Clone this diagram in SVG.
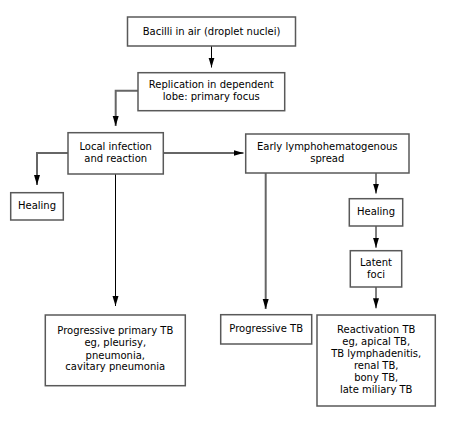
<svg xmlns="http://www.w3.org/2000/svg" width="454" height="432" viewBox="0 0 454 432">
<style>
.box{fill:#fff;stroke:#595959;stroke-width:1.5}
text{font-family:"DejaVu Sans",Verdana,sans-serif;font-size:10px;fill:#000;text-anchor:middle}
.g{fill:none;stroke:#666;stroke-width:2}
.k{fill:none;stroke:#000;stroke-width:1}
</style>
<defs>
<marker id="ah" markerWidth="10" markerHeight="8" refX="10" refY="4" orient="auto" markerUnits="userSpaceOnUse">
<path d="M0,1 L10,4 L0,7 Z" fill="#000"/>
</marker>
</defs>
<rect width="454" height="432" fill="#fff"/>
<g id="connectors">
<path class="k" d="M211.5,46 V67.5" marker-end="url(#ah)"/>
<path class="g" d="M138,90.7 H115.7 V126" marker-end="url(#ah)"/>
<path class="g" d="M68,153 H37 V185" marker-end="url(#ah)"/>
<path class="g" d="M163,153 H243.5" marker-end="url(#ah)"/>
<path class="k" d="M115.5,174 V306" marker-end="url(#ah)"/>
<path class="g" d="M265.7,173 V309" marker-end="url(#ah)"/>
<path class="k" d="M376,173 V193.5" marker-end="url(#ah)"/>
<path class="k" d="M376,226 V247.7" marker-end="url(#ah)"/>
<path class="k" d="M376,287 V308.3" marker-end="url(#ah)"/>
</g>
<g id="n1"><rect class="box" x="127.5" y="17" width="168" height="29"/><text x="211.5" y="35">Bacilli in air (droplet nuclei)</text></g>
<g id="n2"><rect class="box" x="138" y="72.7" width="146.7" height="38"/><text x="211.3" y="87.5">Replication in dependent</text><text x="211.3" y="100">lobe: primary focus</text></g>
<g id="n3"><rect class="box" x="68" y="132.7" width="95.3" height="41.3"/><text x="115.7" y="149.5">Local infection</text><text x="115.7" y="161.5">and reaction</text></g>
<g id="n4"><rect class="box" x="245.7" y="134" width="163.3" height="39"/><text x="327.3" y="150">Early lymphohematogenous</text><text x="327.3" y="162">spread</text></g>
<g id="n5"><rect class="box" x="10.7" y="192.7" width="52.6" height="27.3"/><text x="37" y="209">Healing</text></g>
<g id="n6"><rect class="box" x="349.3" y="198.7" width="53.4" height="27.3"/><text x="376" y="215">Healing</text></g>
<g id="n7"><rect class="box" x="350.3" y="250.7" width="51.4" height="36.3"/><text x="376" y="266">Latent</text><text x="376" y="278">foci</text></g>
<g id="n8"><rect class="box" x="45.3" y="315" width="140" height="70.7"/><text x="115.3" y="334">Progressive primary TB</text><text x="115.3" y="346.3">eg, pleurisy,</text><text x="115.3" y="358.6">pneumonia,</text><text x="115.3" y="370">cavitary pneumonia</text></g>
<g id="n9"><rect class="box" x="220.7" y="314.7" width="91" height="29.3"/><text x="266.2" y="332">Progressive TB</text></g>
<g id="n10"><rect class="box" x="317" y="315" width="118.3" height="91"/><text x="376.2" y="332.7">Reactivation TB</text><text x="376.2" y="345">eg, apical TB,</text><text x="376.2" y="357">TB lymphadenitis,</text><text x="376.2" y="368.7">renal TB,</text><text x="376.2" y="381">bony TB,</text><text x="376.2" y="393">late miliary TB</text></g>
</svg>
